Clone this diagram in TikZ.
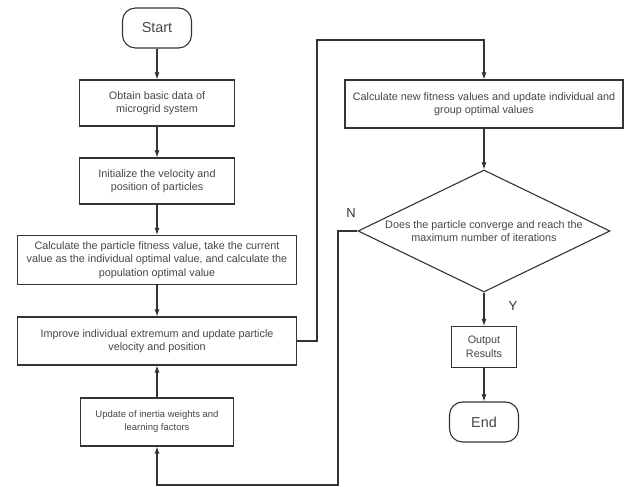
\documentclass[tikz,border=0pt]{standalone}
\usepackage{fontspec}
\setmainfont{Liberation Sans}
\usetikzlibrary{shapes}
\usetikzlibrary{shapes.geometric}
\usetikzlibrary{positioning}
\usetikzlibrary{calc}
\usetikzlibrary{arrows.meta}
\begin{document}
\begin{tikzpicture}[x=1pt,y=1pt,
  procbox/.style={draw=drawColor,line width=1.1pt,text=textColor,rectangle,align=center,inner sep=0pt,font=\fontsize{10.8}{13.5}\selectfont},
  termbox/.style={draw=drawColor,line width=1.1pt,text=textColor,rectangle,rounded corners=13pt,minimum width=69pt,minimum height=40pt,inner sep=0pt,font=\fontsize{14.4}{16}\selectfont},
  decbox/.style={draw=drawColor,line width=1.1pt,text=textColor,diamond,aspect=2.07,align=center,inner sep=0pt,minimum width=252pt,minimum height=122pt,font=\fontsize{10.8}{13.5}\selectfont},
  flow/.style={draw=drawColor,line width=1.1pt,-{Latex[length=7pt,width=5pt]}},
  tag/.style={text=drawColor,inner sep=0pt,font=\fontsize{13}{15}\selectfont}]
\definecolor[named]{drawColor}{rgb}{0.20,0.20,0.20}
\definecolor[named]{textColor}{rgb}{0.28,0.28,0.28}
\path[use as bounding box,fill=white] (0,0) rectangle (627,487);

\node[termbox] (start) at (157,459) {Start};
\node[procbox,minimum width=155pt,minimum height=46pt] (obtain) at (157,384) {Obtain basic data of\\microgrid system};
\node[procbox,minimum width=155pt,minimum height=46pt] (init) at (157,306) {Initialize the velocity and\\position of particles};
\node[procbox,minimum width=279pt,minimum height=49pt] (fitness) at (157,227) {Calculate the particle fitness value, take the current\\value as the individual optimal value, and calculate the\\population optimal value};
\node[procbox,minimum width=279pt,minimum height=48pt] (improve) at (157,146) {Improve individual extremum and update particle\\velocity and position};
\node[procbox,minimum width=153pt,minimum height=48pt,font=\fontsize{9.5}{13}\selectfont] (update) at (157,65) {Update of inertia weights and\\learning factors};

\node[procbox,minimum width=278pt,minimum height=48pt] (newfit) at (484,383) {Calculate new fitness values and update individual and\\group optimal values};
\node[decbox] (converge) at (484,256) {Does the particle converge and reach the\\maximum number of iterations};
\node[procbox,minimum width=65pt,minimum height=41pt] (output) at (484,140) {Output\\Results};
\node[termbox] (end) at (484,65) {End};

\node[tag] (no) at (351,274) {N};
\node[tag] (yes) at (513,181) {Y};

\coordinate (upturn) at (317,447);
\coordinate (downturn) at (338,2);

\draw[flow] (start) -- (obtain);
\draw[flow] (obtain) -- (init);
\draw[flow] (init) -- (fitness);
\draw[flow] (fitness) -- (improve);
\draw[flow] (update) -- (improve);
\draw[flow] (improve.east) -| (upturn) -| (newfit.north);
\draw[flow] (newfit) -- (converge);
\draw[flow] (converge.south) -- (output);
\draw[flow] (output) -- (end);
\draw[flow] (converge.west) -| (downturn) -| (update.south);
\end{tikzpicture}
\end{document}
